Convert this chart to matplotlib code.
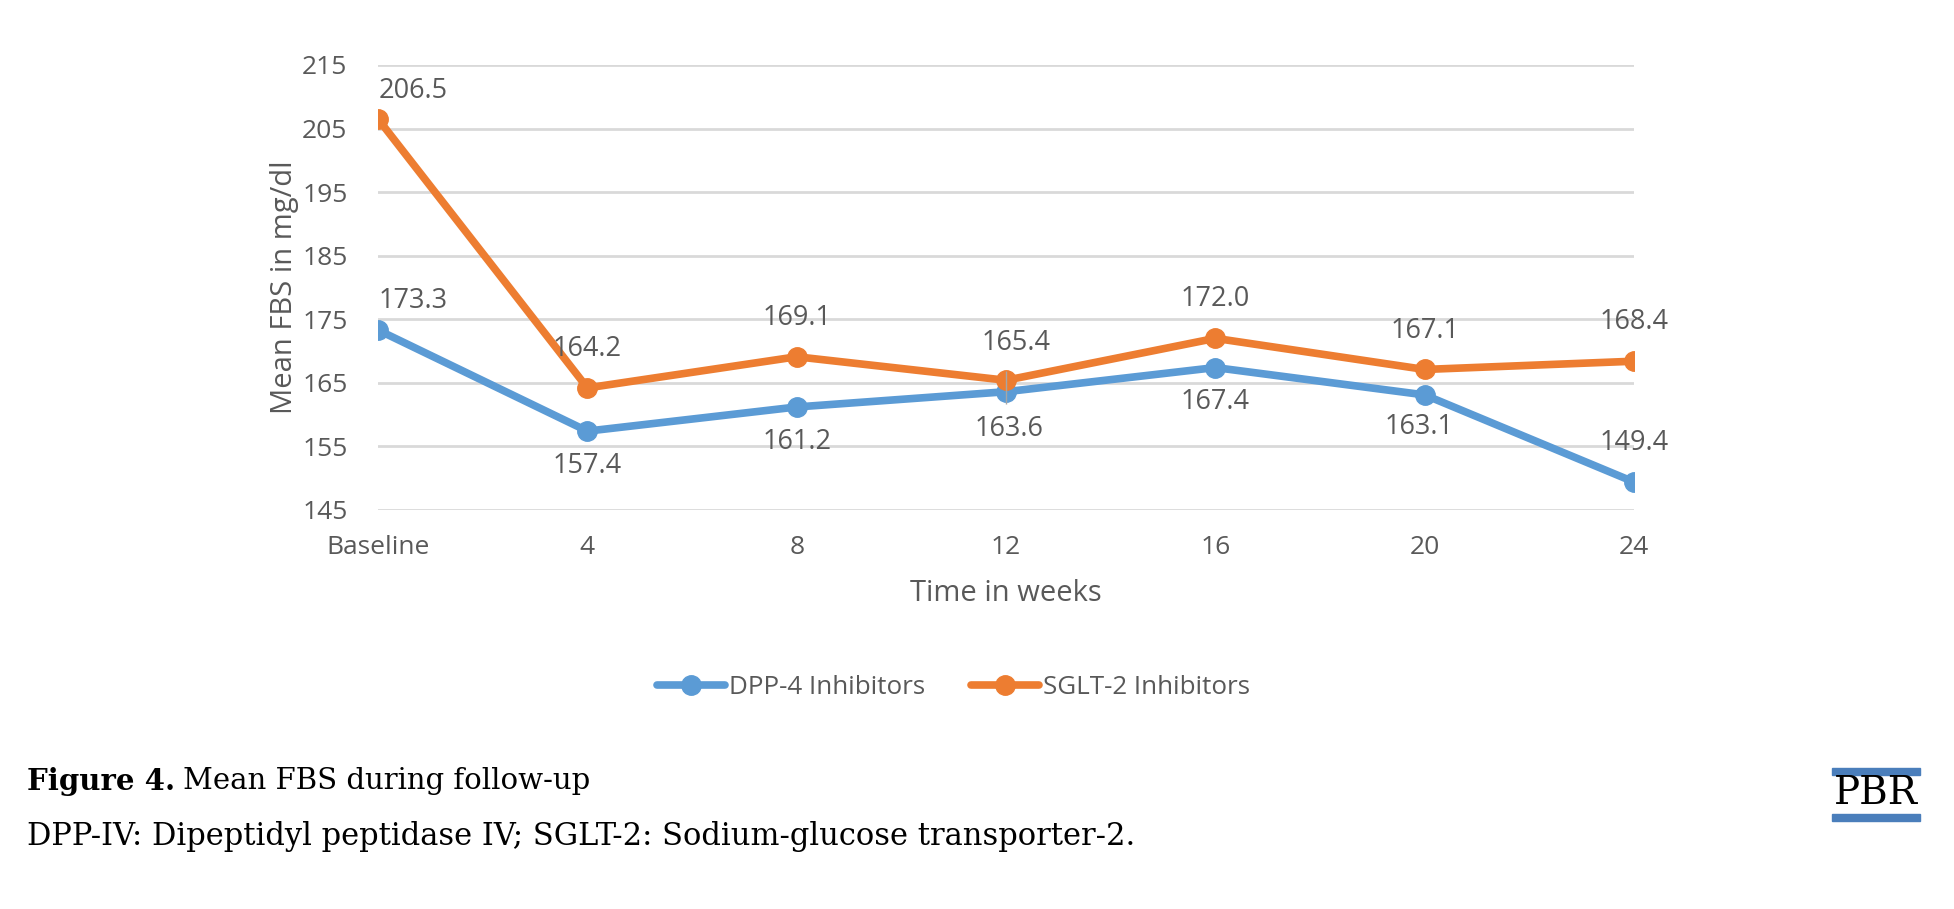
import matplotlib.pyplot as plt
from matplotlib.patches import Rectangle

# data
weeks = ["Baseline", "4", "8", "12", "16", "20", "24"]
dpp4 = [173.3, 157.4, 161.2, 163.6, 167.4, 163.1, 149.4]
sglt2 = [206.5, 164.2, 169.1, 165.4, 172.0, 167.1, 168.4]
yticks = [145, 155, 165, 175, 185, 195, 205, 215]
# little grey bar drawn at week 12 in the original
wk12_bar = [161.6, 166.8]

# label offsets in points (dx, dy)
dpp4_off = [(25, 21), (0, -25), (0, -25), (2, -27), (0, -25), (-4, -23), (0, 28)]
sglt2_off = [(25, 20), (0, 28), (0, 28), (7, 27), (0, 28), (0, 28), (0, 28)]

blue = "#5B9BD5"
orange = "#ED7D31"
grey = "#595959"
font = ["Open Sans", "DejaVu Sans"]
plt.rcParams["font.family"] = font

fig = plt.figure(figsize=(19.54, 9.09), dpi=100)
ax = fig.add_axes([0.1935, 0.439, 0.6427, 0.4895])

x = list(range(len(weeks)))
ax.plot(x, dpp4, color=blue, lw=5.5, marker="o", ms=14, label="DPP-4 Inhibitors",
        solid_capstyle="round", zorder=3)
ax.plot(x, sglt2, color=orange, lw=5.5, marker="o", ms=14, label="SGLT-2 Inhibitors",
        solid_capstyle="round", zorder=3)
ax.vlines(weeks.index("12"), wk12_bar[0], wk12_bar[1], color="#A6A6A6", lw=1, zorder=4)

for xi, v, o in zip(x, dpp4, dpp4_off):
    ax.annotate(f"{v:.1f}", (xi, v), xytext=o, textcoords="offset points",
                ha="center", va="center", fontsize=19.5, color=grey)
for xi, v, o in zip(x, sglt2, sglt2_off):
    ax.annotate(f"{v:.1f}", (xi, v), xytext=o, textcoords="offset points",
                ha="center", va="center", fontsize=19.5, color=grey)

ax.set_xlim(0, 6)
ax.set_ylim(145, 215)
ax.set_yticks(yticks)
ax.set_xticks(x)
ax.set_xticklabels(weeks)
ax.grid(axis="y", color="#D9D9D9", lw=2)
ax.set_axisbelow(True)
for s in ax.spines.values():
    s.set_visible(False)
ax.tick_params(length=0, labelsize=19, labelcolor=grey)
ax.tick_params(axis="y", pad=22)
ax.tick_params(axis="x", pad=18)
ax.set_xlabel("Time in weeks", fontsize=21, color=grey, labelpad=14)
ax.set_ylabel("Mean FBS in mg/dl", fontsize=21, color=grey, labelpad=2)

leg = fig.legend(loc="center", bbox_to_anchor=(0.488, 0.244), ncol=2, frameon=False,
                 fontsize=18.7, handlelength=2.6, columnspacing=1.8, handletextpad=0.15)
for t in leg.get_texts():
    t.set_color(grey)

# caption
cap_y = 1 - 781 / 909
t1 = fig.text(0.0138, cap_y, "Figure 4.", fontsize=21, fontweight="bold",
              family="DejaVu Serif", va="center")
fig.canvas.draw()
bb = t1.get_window_extent().transformed(fig.transFigure.inverted())
fig.text(bb.x1 + 0.004, cap_y, "Mean FBS during follow-up", fontsize=21,
         family="DejaVu Serif", va="center")
fig.text(0.0138, 1 - 837 / 909,
         "DPP-IV: Dipeptidyl peptidase IV; SGLT-2: Sodium-glucose transporter-2.",
         fontsize=22, family="DejaVu Serif", va="center")

# PBR logo
fig.text(1876 / 1954, 1 - 794 / 909, "PBR", fontsize=28, family="DejaVu Serif",
         ha="center", va="center", color="black")
fig.add_artist(Rectangle((1832 / 1954, 1 - 775 / 909), 88 / 1954, 7 / 909,
                         transform=fig.transFigure, color="#4A7EBB"))
fig.add_artist(Rectangle((1832 / 1954, 1 - 821 / 909), 88 / 1954, 7 / 909,
                         transform=fig.transFigure, color="#4A7EBB"))

fig.savefig("out.png", dpi=100)
